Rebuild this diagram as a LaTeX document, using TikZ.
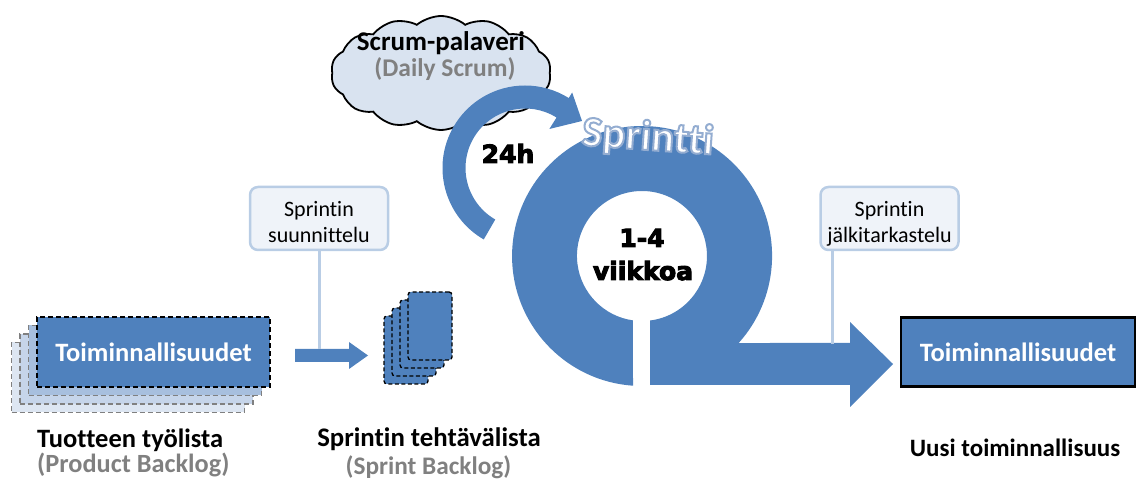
\documentclass[tikz,border=0pt]{standalone}
\usepackage{fontspec}
\setmainfont{Carlito}[Ligatures={NoCommon}]
\newfontfamily\heavyfont{DejaVu Sans}
\usetikzlibrary{shapes.symbols,calc}
\definecolor{sblue}{HTML}{4F81BD}
\definecolor{lblueA}{HTML}{A7BFDE}
\definecolor{lblueB}{HTML}{C6D5EA}
\definecolor{lblueC}{HTML}{DDE6F2}
\definecolor{boxfill}{HTML}{EFF3F9}
\definecolor{boxline}{HTML}{B9CDE5}
\definecolor{cloudfill}{HTML}{D9E3F0}
\definecolor{txtgray}{HTML}{808080}
\newcommand\strokedtext[3]{\special{pdf:literal direct 2 Tr #1 w #2 RG}#3\special{pdf:literal direct 0 Tr 0.4 w}}
\begin{document}
\begin{tikzpicture}[x=1pt,y=1pt,
  bigtxt/.style={font=\fontsize{26}{30}\selectfont\bfseries, inner sep=0, anchor=base},
  smalltxt/.style={font=\fontsize{22}{26}\selectfont, inner sep=0, anchor=base},
  heavytxt/.style={font=\heavyfont\bfseries\fontsize{25}{30}\selectfont, inner sep=0, anchor=base},
  card/.style={minimum width=233, minimum height=70, inner sep=0, dash pattern=on 5pt off 3pt, line width=1.4},
  page/.style={minimum width=44, minimum height=68, inner sep=0, rounded corners=3, fill=sblue, draw=black, dash pattern=on 4pt off 2.5pt, line width=1.3},
  notebox/.style={minimum width=138, minimum height=63, inner sep=0, rounded corners=8, fill=boxfill, draw=boxline, line width=2.5},
  noteline/.style={draw=boxline, line width=3},
  sprinttxt/.style={font=\fontsize{43}{50}\selectfont\bfseries, inner sep=0, anchor=base, rotate=-4}
]
\useasboundingbox (0,0) rectangle (1137,484);

% Product backlog stack
\node[card, fill=lblueC, draw=txtgray] (pbC) at (128,106.5) {};
\node[card, fill=lblueB, draw=txtgray] (pbB) at (136.5,115) {};
\node[card, fill=lblueA, draw=txtgray] (pbA) at (145,123.5) {};
\node[card, fill=sblue, draw=black, text=white, font=\fontsize{26.5}{30}\selectfont\bfseries] (pb) at (153.5,132) {Toiminnallisuudet};
\node[bigtxt, anchor=base west, font=\fontsize{26.5}{30}\selectfont\bfseries] (pbl) at (37,36) {Tuotteen työlista};
\node[bigtxt, anchor=base west, text=txtgray, font=\fontsize{26.3}{30}\selectfont\bfseries] (pbe) at (37,11) {(Product Backlog)};

% Sprint planning box and arrow
\node[notebox] (plan) at (319,265.5) {};
\node[smalltxt] (planA) at (319,267) {Sprintin};
\node[smalltxt] (planB) at (319,241) {suunnittelu};
\coordinate (saS) at (295,128.5);
\coordinate (saE) at (368,128.5);
\fill[sblue] ($(saS)+(0,6.5)$) -- ($(saE)+(-19,6.5)$) -- ($(saE)+(-19,13.5)$) -- (saE) -- ($(saE)+(-19,-13.5)$) -- ($(saE)+(-19,-6.5)$) -- ($(saS)+(0,-6.5)$) -- cycle;
\draw[noteline] (plan.south) -- (plan.south |- 0,135);

% Sprint backlog pages
\node[page] (sbD) at (406,134) {};
\node[page] (sbC) at (414,142) {};
\node[page] (sbB) at (422,150) {};
\node[page] (sb) at (430,158) {};
\node[bigtxt, font=\fontsize{26.8}{30}\selectfont\bfseries] (sbl) at (429,37) {Sprintin tehtävälista};
\node[bigtxt, text=txtgray, font=\fontsize{25.3}{30}\selectfont\bfseries] (sbe) at (428.5,9) {(Sprint Backlog)};

% Cloud
\node[cloud, cloud puffs=14, cloud puff arc=80, cloud ignores aspect, draw=black, line width=1.8, fill=cloudfill, minimum width=220, minimum height=114, inner sep=0] (cl) at (441,411) {};
\node[bigtxt, font=\fontsize{27}{30}\selectfont\bfseries] (clA) at (441,433) {Scrum-palaveri};
\node[bigtxt, text=txtgray, font=\fontsize{25.5}{30}\selectfont\bfseries] (clB) at (445,407) {(Daily Scrum)};

% Daily arc arrow
\coordinate (dc) at (525,316);
\fill[sblue] ($(dc)+(240:82.5)$) arc[start angle=240, end angle=58, radius=82.5]
  -- ($(dc)+(58:89)$) -- ($(dc)+(39.5:73.9)$) -- ($(dc)+(58:46)$) -- ($(dc)+(58:59.5)$)
  arc[start angle=58, end angle=240, radius=59.5] -- cycle;
\node[heavytxt] (h24) at (508,321) {\strokedtext{1.0}{0 0 0}{24h}};

% Sprint ring with output arrow
\coordinate (rc) at (642,228);
\fill[sblue] (633,98.3) arc[start angle=266, end angle=-42, radius=130]
  -- (850,141) -- (850,162) -- (893,120) -- (850,77) -- (850,99) -- (650,99)
  -- (650,163.5) arc[start angle=-82.9, end angle=262, radius=65] -- cycle;
\node[heavytxt] (wA) at (642,237) {\strokedtext{1.0}{0 0 0}{1-4}};
\node[heavytxt] (wB) at (643,204) {\strokedtext{1.0}{0 0 0}{viikkoa}};

% Sprintti title
\node[sprinttxt, text=white] (spr) at (647,334) {\strokedtext{2.0}{0.58 0.68 0.82}{Sprintti}};

% Sprint review box
\node[notebox] (rev) at (889.5,265.5) {};
\node[smalltxt] (revA) at (889.5,267) {Sprintin};
\node[smalltxt] (revB) at (889.5,241) {jälkitarkastelu};
\draw[noteline] ([xshift=-57.5]rev.south) -- ++(0,-93);

% Output
\node[minimum width=234, minimum height=69, inner sep=0, fill=sblue, draw=black, line width=2.5, text=white, font=\fontsize{26.5}{30}\selectfont\bfseries] (out) at (1018,132) {Toiminnallisuudet};
\node[bigtxt, font=\fontsize{25}{30}\selectfont\bfseries] (new) at (1015,27) {Uusi toiminnallisuus};
\end{tikzpicture}
\end{document}
